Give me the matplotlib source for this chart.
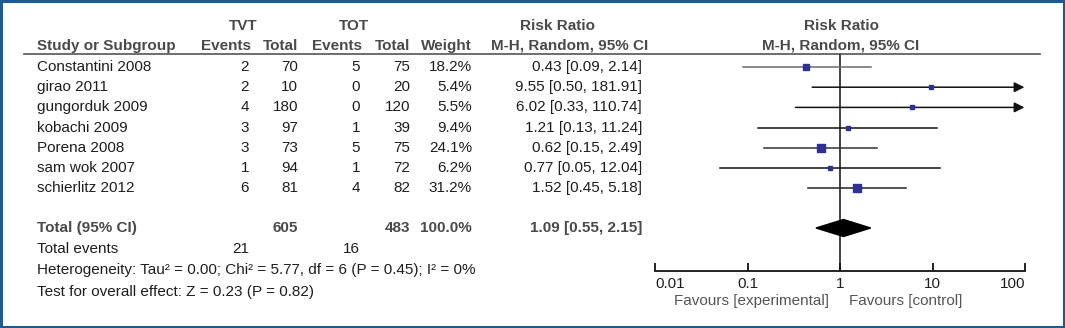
import numpy as np
import matplotlib
matplotlib.use("Agg")
import matplotlib.pyplot as plt
from matplotlib.patches import Rectangle, Polygon

plt.rcParams["font.family"] = ["Liberation Sans", "DejaVu Sans"]

# --- data -------------------------------------------------------------
studies = ["Constantini 2008", "girao 2011", "gungorduk 2009", "kobachi 2009",
           "Porena 2008", "sam wok 2007", "schierlitz 2012"]
tvt_events = [2, 2, 4, 3, 3, 1, 6]
tvt_total = [70, 10, 180, 97, 73, 94, 81]
tot_events = [5, 0, 0, 1, 5, 1, 4]
tot_total = [75, 20, 120, 39, 75, 72, 82]
weight = [18.2, 5.4, 5.5, 9.4, 24.1, 6.2, 31.2]
rr = [0.43, 9.55, 6.02, 1.21, 0.62, 0.77, 1.52]
ci_lo = [0.09, 0.50, 0.33, 0.13, 0.15, 0.05, 0.45]
ci_hi = [2.14, 181.91, 110.74, 11.24, 2.49, 12.04, 5.18]

total_tvt, total_tot = 605, 483
total_weight = 100.0
pooled_rr, pooled_lo, pooled_hi = 1.09, 0.55, 2.15
events_tvt, events_tot = 21, 16
heterogeneity = "Heterogeneity: Tau² = 0.00; Chi² = 5.77, df = 6 (P = 0.45); I² = 0%"
overall = "Test for overall effect: Z = 0.23 (P = 0.82)"

xticks = [0.01, 0.1, 1, 10, 100]
xticklabels = ["0.01", "0.1", "1", "10", "100"]

# --- layout (pixels, figure is 1065 x 328) ---------------------------
W, H = 1065, 328
FS = 11
TXT = "#1e1e1e"
HDR = "#4a4a4a"
SQ = "#2e3192"

row_y = [67 + 20.2 * i for i in range(len(studies))]
line_col = ["#6a6a6a", "#111111", "#555555", "#111111", "#333333", "#111111", "#222222"]
y_total, y_events, y_het, y_test = 228, 249, 270, 292
y_top, y_axis = 54, 271
fx0, fx1 = 655, 1025

fig = plt.figure(figsize=(W / 100, H / 100), dpi=100)
fig.patch.set_facecolor("white")

tab = fig.add_axes([0, 0, 1, 1])
tab.set_xlim(0, W)
tab.set_ylim(H, 0)
tab.axis("off")

# border
tab.add_patch(Rectangle((1, 1), W - 2, H - 2, fill=False, ec="#1d5a94", lw=2.2))

# headers
for x, s in [(243, "TVT"), (354, "TOT"), (558, "Risk Ratio"), (841, "Risk Ratio")]:
    tab.text(x, 26, s, ha="center", va="center", fontsize=FS, weight="bold", color=HDR)
tab.text(37, 46, "Study or Subgroup", ha="left", va="center", fontsize=FS,
         weight="bold", color=HDR)
for x, s in [(251, "Events"), (298, "Total"), (362, "Events"), (410, "Total"),
             (472, "Weight"), (648, "M-H, Random, 95% CI")]:
    tab.text(x, 46, s, ha="right", va="center", fontsize=FS, weight="bold", color=HDR)
tab.text(841, 46, "M-H, Random, 95% CI", ha="center", va="center", fontsize=FS,
         weight="bold", color=HDR)
tab.plot([24, 1040], [y_top, y_top], color="#555555", lw=1.2)

# study rows
cols = [249, 298, 360, 410, 472, 642]
for i, y in enumerate(row_y):
    tab.text(37, y, studies[i], ha="left", va="center", fontsize=FS, color=TXT)
    vals = [str(tvt_events[i]), str(tvt_total[i]), str(tot_events[i]),
            str(tot_total[i]), f"{weight[i]:.1f}%",
            f"{rr[i]:.2f} [{ci_lo[i]:.2f}, {ci_hi[i]:.2f}]"]
    for x, s in zip(cols, vals):
        tab.text(x, y, s, ha="right", va="center", fontsize=FS, color=TXT)

# total row
tab.text(37, y_total, "Total (95% CI)", ha="left", va="center", fontsize=FS,
         weight="bold", color=HDR)
for x, s in [(298, str(total_tvt)), (410, str(total_tot)),
             (472, f"{total_weight:.1f}%"),
             (642, f"{pooled_rr:.2f} [{pooled_lo:.2f}, {pooled_hi:.2f}]")]:
    tab.text(x, y_total, s, ha="right", va="center", fontsize=FS, weight="bold", color=HDR)

tab.text(37, y_events, "Total events", ha="left", va="center", fontsize=FS, color=TXT)
tab.text(249, y_events, str(events_tvt), ha="right", va="center", fontsize=FS, color=TXT)
tab.text(360, y_events, str(events_tot), ha="right", va="center", fontsize=FS, color=TXT)
tab.text(37, y_het, heterogeneity, ha="left", va="center", fontsize=FS, color=TXT)
tab.text(37, y_test, overall, ha="left", va="center", fontsize=FS, color=TXT)

tab.text(829, 301, "Favours [experimental]", ha="right", va="center", fontsize=FS,
         color="#555555")
tab.text(849, 301, "Favours [control]", ha="left", va="center", fontsize=FS,
         color="#555555")

# --- forest panel -----------------------------------------------------
ax = fig.add_axes([fx0 / W, (H - y_axis) / H, (fx1 - fx0) / W, (y_axis - y_top) / H])
ax.set_xscale("log")
ax.set_xlim(0.01, 100)
ax.set_ylim(y_axis, y_top)
ax.patch.set_alpha(0)
for s in ["top", "left", "right"]:
    ax.spines[s].set_visible(False)
ax.spines["bottom"].set_linewidth(1.3)
ax.spines["bottom"].set_color("#111111")
ax.set_yticks([])
ax.set_xticks(xticks)
ax.set_xticklabels(xticklabels)
ax.minorticks_off()
ax.tick_params(axis="x", direction="in", length=6, width=1.3, pad=4,
               labelsize=FS, labelcolor=TXT, color="#111111")
labels = ax.get_xticklabels()
labels[0].set_ha("left")
labels[-1].set_ha("right")

ax.axvline(1, color="#222222", lw=1.2, zorder=1)

xmin, xmax = ax.get_xlim()
for i, y in enumerate(row_y):
    if ci_hi[i] > xmax:
        ax.annotate("", xy=(xmax * 0.985, y), xytext=(ci_lo[i], y),
                    arrowprops=dict(arrowstyle="-|>,head_length=0.6,head_width=0.3",
                                    color="#111111", lw=1.1, shrinkA=0, shrinkB=0))
    else:
        ax.plot([ci_lo[i], ci_hi[i]], [y, y], color=line_col[i], lw=1.1, zorder=2)
    side = 1.5 * np.sqrt(weight[i]) * 0.72
    ax.plot(rr[i], y, marker="s", ms=side, color=SQ, mec=SQ, zorder=3)

ax.add_patch(Polygon([(pooled_lo, y_total), (pooled_rr, y_total - 8.5),
                      (pooled_hi, y_total), (pooled_rr, y_total + 8.5)],
                     closed=True, fc="black", ec="black", zorder=3))

fig.savefig("out.png", dpi=100)
